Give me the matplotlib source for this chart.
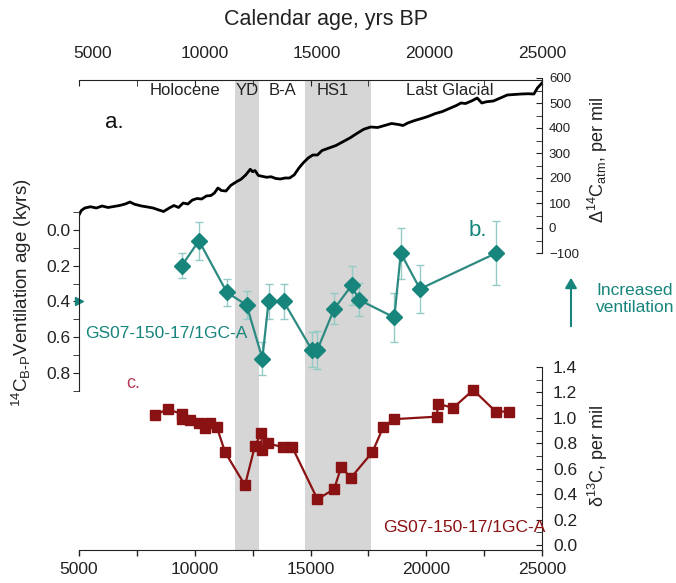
#!/usr/bin/env python3

import numpy as np
import matplotlib
matplotlib.use('Agg')
import matplotlib.pyplot as plt
from matplotlib.ticker import MultipleLocator, FixedLocator, FormatStrFormatter
from matplotlib.patches import FancyArrowPatch

plt.rcParams['font.family'] = ['Liberation Sans', 'DejaVu Sans']
plt.rcParams['mathtext.default'] = 'regular'

# a. atmospheric D14C (per mil) vs calendar age
atm_age = [5000, 5100, 5250, 5500, 5750, 6000, 6250, 6500, 6750, 7000, 7200, 7400,
           7700, 7900, 8200, 8450, 8650, 8900, 9100, 9300, 9500, 9700, 9900, 10100,
           10300, 10500, 10700, 10850, 11000, 11150, 11350, 11550, 11800, 12000, 12200,
           12400, 12500, 12600, 12750, 12900, 13100, 13300, 13500, 13700, 13900, 14100,
           14300, 14500, 14700, 14900, 15100, 15300, 15500, 15800, 16100, 16400, 16700,
           17000, 17300, 17600, 17900, 18200, 18500, 18800, 19000, 19200, 19500, 19800,
           20100, 20400, 20700, 21000, 21300, 21500, 21700, 22000, 22200, 22400, 22600,
           22900, 23200, 23500, 23800, 24100, 24400, 24650, 24800, 25000]
atm_d14c = [52, 70, 80, 85, 80, 88, 82, 86, 90, 96, 104, 95,
            88, 85, 80, 72, 66, 80, 90, 82, 100, 96, 112, 118,
            116, 128, 130, 140, 160, 150, 148, 170, 185, 195, 212,
            235, 225, 230, 210, 207, 203, 205, 198, 196, 200, 200,
            213, 240, 262, 280, 292, 292, 310, 320, 330, 345, 360,
            378, 395, 404, 402, 410, 418, 414, 410, 420, 430, 438,
            447, 458, 466, 478, 490, 500, 498, 510, 520, 500, 505,
            508, 520, 532, 534, 536, 537, 536, 560, 580]

# b. benthic-planktonic ventilation age (kyrs)
vent_age = [9440, 10180, 11390, 12240, 12920, 13190, 13840, 15050, 15300, 16030,
            16780, 17080, 18620, 18900, 19730, 23010]
vent_kyr = [0.20, 0.06, 0.35, 0.42, 0.72, 0.40, 0.40, 0.67, 0.67, 0.44,
            0.31, 0.39, 0.49, 0.13, 0.33, 0.13]
vent_err = [0.07, 0.107, 0.073, 0.08, 0.09, 0.096, 0.10, 0.10, 0.106, 0.086,
            0.109, 0.092, 0.135, 0.143, 0.134, 0.18]

# c. benthic d13C (per mil)
d13c_age = [8280, 8830, 9430, 9470, 9800, 10180, 10430, 10670, 10950, 11310, 12170,
            12600, 12880, 12900, 13150, 13800, 14210, 15300, 16020, 16320, 16750,
            17670, 18150, 18610, 20470, 20490, 21170, 22030, 23000, 23590]
d13c_val = [1.02, 1.07, 1.03, 0.99, 0.98, 0.96, 0.92, 0.96, 0.93, 0.73, 0.47,
            0.78, 0.88, 0.75, 0.80, 0.77, 0.77, 0.36, 0.44, 0.61, 0.53,
            0.73, 0.93, 0.99, 1.01, 1.11, 1.08, 1.22, 1.05, 1.05]

bands = [(11740, 12780), (14760, 17600)]
periods = ['Holocene', 'YD', 'B-A', 'HS1', 'Last Glacial']
period_x = [9580, 12260, 13810, 15970, 21030]

TEAL = '#17857c'
TEAL_ERR = '#93cbc6'
RED = '#8b1212'
PINK = '#b43a55'
INK = '#222222'

W, H = 676, 583
L, R, T, B = 79, 542, 80, 550


def rect(top=T, bottom=B):
    return [L / W, 1 - bottom / H, (R - L) / W, (bottom - top) / H]


def fpos(x, y):
    return x / W, 1 - y / H


fig = plt.figure(figsize=(W / 100, H / 100), dpi=100)

# base axes: shading and calendar axes
ax = fig.add_axes(rect())
ax.set_xlim(5000, 25000)
ax.set_ylim(0, 1)
for s in ['left', 'right', 'top']:
    ax.spines[s].set_visible(False)
ax.set_yticks([])
ax.xaxis.set_major_locator(MultipleLocator(5000))
ax.xaxis.set_minor_locator(MultipleLocator(2500))
ax.tick_params(axis='x', which='both', direction='out', length=4, width=1,
               labelsize=12.5, pad=5, colors=INK)
ax.spines['bottom'].set_color(INK)
for lo, hi in bands:
    ax.axvspan(lo, hi, color='#d6d6d6', lw=0, zorder=0)

# top ticks (inward)
axt = ax.twiny()
axt.set_xlim(5000, 25000)
axt.xaxis.set_major_locator(MultipleLocator(5000))
axt.xaxis.set_minor_locator(MultipleLocator(2500))
axt.tick_params(axis='x', which='both', direction='in', length=4, labeltop=False,
                colors=INK)
for s in ['left', 'right', 'bottom']:
    axt.spines[s].set_visible(False)
axt.spines['top'].set_color(INK)

# top tick labels sit a bit right of their ticks in the original
shift = 600
axl = ax.twiny()
axl.set_xlim(5000 - shift, 25000 - shift)
axl.set_xticks([5000, 10000, 15000, 20000, 25000])
axl.tick_params(axis='x', length=0, labelsize=12.5, pad=14, colors=INK)
for s in axl.spines.values():
    s.set_visible(False)

for name, xp in zip(periods, period_x):
    ax.text(xp, 1 - 10 / 470, name, ha='center', va='center', fontsize=12,
            color=INK, zorder=5)

# a.
axa = fig.add_axes(rect(top=78), facecolor='none')
axa.set_xlim(5000, 25000)
axa.set_ylim(600 - 472 / 0.25, 600)
axa.plot(atm_age, atm_d14c, color='black', lw=2.0)
axa.xaxis.set_visible(False)
for s in ['left', 'top', 'bottom']:
    axa.spines[s].set_visible(False)
axa.spines['right'].set_bounds(-100, 600)
axa.spines['right'].set_color(INK)
axa.yaxis.tick_right()
axa.yaxis.set_major_locator(FixedLocator(np.arange(-100, 601, 100)))
axa.yaxis.set_minor_locator(FixedLocator(np.arange(-50, 600, 100)))
axa.tick_params(axis='y', which='both', direction='in', length=4, labelsize=9.5,
                pad=5, colors=INK)

# b.
axb = fig.add_axes(rect(), facecolor='none')
axb.set_xlim(5000, 25000)
pxb = 178.5
axb.set_ylim((B - 230) / pxb, (T - 230) / pxb)
axb.errorbar(vent_age, vent_kyr, yerr=vent_err, fmt='none', ecolor=TEAL_ERR,
             elinewidth=1, capsize=3, zorder=2)
axb.plot(vent_age, vent_kyr, color='#2c8a82', lw=1.6, marker='D', ms=8.5,
         mfc=TEAL, mec=TEAL, zorder=3)
axb.plot([5000], [0.4], marker='>', color=TEAL, ms=6, clip_on=False)
axb.xaxis.set_visible(False)
for s in ['right', 'top', 'bottom']:
    axb.spines[s].set_visible(False)
axb.spines['left'].set_bounds(-0.1, 0.9)
axb.spines['left'].set_color(INK)
axb.yaxis.set_major_locator(FixedLocator([0.0, 0.2, 0.4, 0.6, 0.8]))
axb.yaxis.set_minor_locator(FixedLocator([-0.1, 0.1, 0.3, 0.5, 0.7, 0.9]))
axb.yaxis.set_major_formatter(FormatStrFormatter('%.1f'))
axb.tick_params(axis='y', which='both', direction='out', length=4, labelsize=12.5,
                pad=2, colors=INK)

# c.
axc = fig.add_axes(rect(), facecolor='none')
axc.set_xlim(5000, 25000)
pxc = 127.1
axc.set_ylim(-(B - 545) / pxc, (545 - T) / pxc)
axc.plot(d13c_age, d13c_val, color=RED, lw=1.6, marker='s', ms=6.5,
         mfc=RED, mec=RED)
axc.xaxis.set_visible(False)
for s in ['left', 'top', 'bottom']:
    axc.spines[s].set_visible(False)
axc.spines['right'].set_bounds(-(B - 545) / pxc, 1.4)
axc.spines['right'].set_color(INK)
axc.yaxis.tick_right()
axc.yaxis.set_major_locator(FixedLocator(np.round(np.arange(0, 1.41, 0.2), 1)))
axc.yaxis.set_minor_locator(FixedLocator(np.round(np.arange(0.1, 1.4, 0.2), 1)))
axc.yaxis.set_major_formatter(FormatStrFormatter('%.1f'))
axc.tick_params(axis='y', which='both', direction='in', length=4, labelsize=12.5,
                pad=8, colors=INK)

# labels and annotations
fig.text(*fpos(326, 20), 'Calendar age, yrs BP', ha='center', va='center',
         fontsize=15.5, color=INK)
fig.text(*fpos(22, 293), r'$^{14}$C$_{B\text{-}P}$Ventilation age (kyrs)',
         ha='center', va='center', rotation=90, fontsize=13.5, color=INK)
fig.text(*fpos(598, 160), 'Δ$^{14}$C$_{atm}$, per mil', ha='center', va='center',
         rotation=90, fontsize=13, color=INK)
fig.text(*fpos(598, 456), 'δ$^{13}$C, per mil', ha='center', va='center',
         rotation=90, fontsize=13, color=INK)
fig.text(*fpos(114, 122), 'a.', ha='center', va='center', fontsize=16,
         color='#111111')
fig.text(*fpos(478, 231), 'b.', ha='center', va='center', fontsize=16, color=TEAL)
fig.text(*fpos(133, 383), 'c.', ha='center', va='center', fontsize=13, color=PINK)
fig.text(*fpos(85, 334), 'GS07-150-17/1GC-A', ha='left', va='center', fontsize=12.5,
         color=TEAL)
fig.text(*fpos(545, 527), 'GS07-150-17/1GC-A', ha='right', va='center',
         fontsize=12.5, color=RED)
fig.text(*fpos(596, 299), 'Increased\nventilation', ha='left', va='center',
         fontsize=12.5, color=TEAL, linespacing=1.1)
fig.add_artist(FancyArrowPatch(
    fpos(571, 329), fpos(571, 275), transform=fig.transFigure,
    arrowstyle='-|>,head_length=6,head_width=3.5', color=TEAL, lw=1.5))

fig.savefig('out.png', dpi=100)
